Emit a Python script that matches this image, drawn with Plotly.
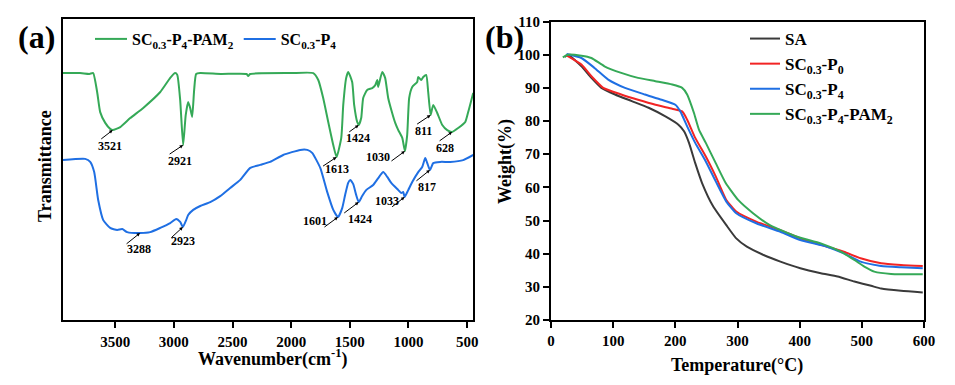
import plotly.graph_objects as go

W, H = 955, 385
OFF = 8  # page body margin offset
def fx(x): return (x - OFF) / W
def fy(y): return 1 - (y - OFF) / H

GREEN = "#35a957"
BLUE = "#1f6fe3"
RED = "#f22424"
BLACK = "#3a3a3a"
FONT = "Liberation Serif"

# ---------------- FTIR (a) ----------------
pam_wn = [3945, 3800, 3720, 3688, 3654, 3628, 3585, 3543, 3521, 3457, 3372, 3261, 3116, 3031, 2989,
          2971, 2946, 2921, 2899, 2878, 2861, 2844, 2827, 2810, 2775, 2600, 2380, 2366, 2350, 2000,
          1812, 1769, 1727, 1684, 1641, 1613, 1573, 1556, 1531, 1514, 1480, 1463, 1437, 1424, 1403,
          1386, 1352, 1309, 1283, 1266, 1258, 1224, 1199, 1173, 1139, 1113, 1087, 1053, 1030, 1011,
          994, 968, 926, 917, 892, 874, 849, 832, 811, 789, 755, 712, 670, 628, 576, 516, 491, 448]
pam_t = [82.3, 82.3, 82.0, 82.3, 76.0, 69.3, 65.7, 63.7, 63.3, 64.3, 67.3, 70.7, 76.0, 80.7, 82.3,
         81.7, 73.3, 58.3, 68.3, 72.7, 70.7, 67.7, 76.7, 82.0, 82.3, 82.0, 82.0, 81.3, 82.0, 82.3,
         82.3, 80.0, 74.0, 66.0, 58.3, 54.3, 60.7, 71.7, 80.7, 82.7, 79.3, 71.7, 66.0, 65.0, 67.3,
         74.0, 76.7, 77.3, 78.3, 80.0, 77.7, 82.7, 80.7, 74.0, 69.0, 65.7, 63.3, 60.7, 56.3, 61.7,
         74.0, 77.7, 79.3, 81.0, 80.0, 81.0, 81.7, 76.0, 68.3, 71.7, 69.0, 65.0, 63.3, 62.7, 64.0,
         66.0, 69.3, 75.7]

p4_wn = [3945, 3756, 3713, 3679, 3645, 3602, 3543, 3483, 3440, 3398, 3288, 3202, 3116, 3031, 2980,
         2946, 2923, 2895, 2878, 2835, 2775, 2690, 2605, 2520, 2434, 2349, 2264, 2179, 2068, 1923,
         1863, 1821, 1752, 1693, 1641, 1601, 1565, 1540, 1514, 1497, 1471, 1446, 1424, 1395, 1361,
         1301, 1258, 1215, 1181, 1147, 1087, 1062, 1045, 1033, 1002, 968, 917, 883, 857, 840,
         817, 789, 730, 644, 533, 448]
p4_t = [53.3, 53.7, 52.7, 49.3, 40.0, 33.3, 30.7, 30.0, 30.3, 29.3, 29.0, 29.3, 30.7, 32.3, 33.7,
        32.7, 31.0, 33.3, 35.0, 36.7, 38.0, 39.3, 41.3, 44.0, 46.7, 50.7, 51.7, 52.7, 55.0, 56.7,
        56.7, 55.7, 50.7, 42.7, 36.7, 34.3, 37.3, 41.7, 45.7, 46.7, 45.3, 41.7, 39.3, 41.3, 43.3,
        45.0, 47.3, 49.3, 47.7, 45.7, 43.3, 42.3, 42.7, 41.0, 43.3, 46.0, 49.3, 51.0, 54.0, 52.3,
        50.0, 52.3, 52.7, 52.7, 53.3, 55.0]

ftir_ticks = [3500, 3000, 2500, 2000, 1500, 1000, 500]

pam_peaks = [3521, 2921, 1613, 1424, 1030, 811, 628]
pam_peak_t = [63.3, 58.3, 54.3, 65.0, 56.3, 68.3, 62.7]
p4_peaks = [3288, 2923, 1601, 1424, 1033, 817]
p4_peak_t = [29.0, 31.0, 34.3, 39.3, 41.0, 50.0]

# ---------------- TGA (b) ----------------
sa_T = [22, 27, 49, 65, 81, 103, 130, 157, 184, 205, 214, 222, 232, 243, 261, 282, 298, 315, 342,
        369, 401, 434, 461, 488, 515, 531, 563, 598]
sa_W = [99.3, 100, 96.5, 93, 90, 88, 86, 84, 81.4, 78.9, 76.9, 73.4, 67.3, 61.3, 54.2, 48.6, 44.6,
        42.1, 39.6, 37.6, 35.6, 34.1, 33.1, 31.6, 30.3, 29.5, 28.8, 28.3]
p0_T = [25, 49, 65, 84, 113, 140, 168, 195, 211, 219, 232, 249, 265, 282, 298, 331, 369, 401, 444,
        471, 498, 531, 563, 598]
p0_W = [99.8, 97, 93.5, 90, 88, 86.4, 84.9, 83.7, 82.9, 80.4, 74.9, 69.3, 63.3, 56.2, 52.7, 49.6,
        47.1, 44.6, 42.1, 40.6, 38.6, 37.1, 36.6, 36.3]
p4g_T = [25, 49, 70, 92, 119, 151, 178, 200, 208, 219, 232, 249, 265, 282, 298, 331, 369, 401, 444,
         471, 498, 531, 563, 598]
p4g_W = [100.2, 99, 96, 92.5, 90, 88, 86.4, 84.9, 82.9, 78.4, 73.4, 67.8, 61.8, 55.7, 52.2, 49.1,
         46.6, 44.1, 42.1, 40.1, 37.6, 36.3, 35.9, 35.6]
pam2_T = [19, 27, 49, 65, 86, 113, 140, 168, 195, 211, 219, 230, 238, 249, 265, 281, 301, 325, 352,
          396, 434, 466, 488, 504, 520, 547, 598]
pam2_W = [99.2, 100, 99.7, 99, 96.5, 94.5, 93, 92, 91, 90, 88, 82.4, 77.4, 73.4, 67.3, 61.3, 56.2,
          52.2, 48.6, 45.1, 43.1, 40.6, 38.1, 36.1, 34.6, 33.9, 33.8]

N_PAM = "SC<sub>0.3</sub>-P<sub>4</sub>-PAM<sub>2</sub>"
N_P4 = "SC<sub>0.3</sub>-P<sub>4</sub>"
N_P0 = "SC<sub>0.3</sub>-P<sub>0</sub>"

fig = go.Figure()
sm = dict(shape="spline", smoothing=0.5)
fig.add_trace(go.Scatter(x=pam_wn, y=pam_t, mode="lines", name=N_PAM, xaxis="x", yaxis="y",
                         line=dict(color=GREEN, width=2, **sm), legend="legend"))
fig.add_trace(go.Scatter(x=p4_wn, y=p4_t, mode="lines", name=N_P4, xaxis="x", yaxis="y",
                         line=dict(color=BLUE, width=2, **sm), legend="legend"))

for nm, xs, ys, c in [("SA", sa_T, sa_W, BLACK), (N_P0, p0_T, p0_W, RED),
                      (N_P4, p4g_T, p4g_W, BLUE), (N_PAM, pam2_T, pam2_W, GREEN)]:
    fig.add_trace(go.Scatter(x=xs, y=ys, mode="lines", name=nm, xaxis="x2", yaxis="y2",
                             line=dict(color=c, width=2, **sm), legend="legend2"))

bold = dict(family=FONT, color="black", weight="bold")
axcommon = dict(showline=True, linewidth=2, linecolor="black", mirror=True, showgrid=False,
                zeroline=False, ticks="outside", ticklen=6, tickwidth=1.5, tickcolor="black",
                tickfont=dict(size=15, **bold), automargin=False)

fig.update_layout(
    width=W, height=H,
    margin=dict(l=0, r=0, t=0, b=0, pad=0, autoexpand=False),
    paper_bgcolor="white", plot_bgcolor="white",
    xaxis=dict(domain=[fx(63), fx(473)], range=[3945, 450], tickvals=ftir_ticks, anchor="y",
               ticklabelstandoff=1, **axcommon),
    yaxis=dict(domain=[fy(320), fy(19)], range=[0, 100.33], anchor="x",
               **{**axcommon, "ticks": "", "showticklabels": False}),
    xaxis2=dict(domain=[fx(551), fx(924)], range=[0, 600], dtick=100, anchor="y2", **axcommon),
    yaxis2=dict(domain=[fy(320), fy(21.5)], range=[20, 110], dtick=10, anchor="x2", **axcommon),
    legend=dict(orientation="h", x=fx(90), y=fy(22), xanchor="left", yanchor="top",
                font=dict(size=16, **bold), bgcolor="rgba(0,0,0,0)", itemwidth=32,
                tracegroupgap=0),
    legend2=dict(orientation="v", x=fx(745), y=fy(21), xanchor="left", yanchor="top",
                 font=dict(size=17, **bold), bgcolor="rgba(0,0,0,0)", itemwidth=30),
)

ann = []
pam_off = [(-13, 10, -3, -16), (-15, 10, -3, -16), (-15, 10, 0, -12), (-11, 8, -1, -13),
           (-15, 11, -27, -6), (-15, 10, -7, -16), (-14, 10, -7, -16)]
p4_off = [(-15, 12, -1, -16), (-13, 12, 0, -14), (-15, 11, -23, -4), (-16, 12, 1, -17),
          (-14, 11, -18, -4), (-15, 12, -3, -17)]
for peaks, ts, offs in [(pam_peaks, pam_peak_t, pam_off), (p4_peaks, p4_peak_t, p4_off)]:
    for wn, t, (ax_, ay_, xs, ys) in zip(peaks, ts, offs):
        ann.append(dict(x=wn, y=t, xref="x", yref="y", text="", showarrow=True, ax=ax_, ay=ay_,
                        arrowhead=2, arrowsize=0.7, arrowwidth=1, arrowcolor="black"))
        ann.append(dict(x=wn, y=t, xref="x", yref="y", text=str(wn), showarrow=False,
                        xanchor="center", yanchor="middle",
                        xshift=xs, yshift=ys, font=dict(size=12, **bold)))

def label(x, y, text, size, angle=0):
    return dict(x=fx(x), y=fy(y), xref="paper", yref="paper", text=text, textangle=angle,
                xanchor="center", yanchor="middle", showarrow=False,
                font=dict(size=size, **bold))

ann += [
    label(36, 37, "(a)", 32),
    label(504, 37, "(b)", 32),
    label(45, 166, "Transmittance", 18, -90),
    label(272, 358, "Wavenumber(cm<sup>-1</sup>)", 18),
    label(505, 162, "Weight(%)", 18, -90),
    label(737, 365, "Temperature(\u00b0C)", 18),
]
fig.update_layout(annotations=ann)

fig.write_html("out.html")
